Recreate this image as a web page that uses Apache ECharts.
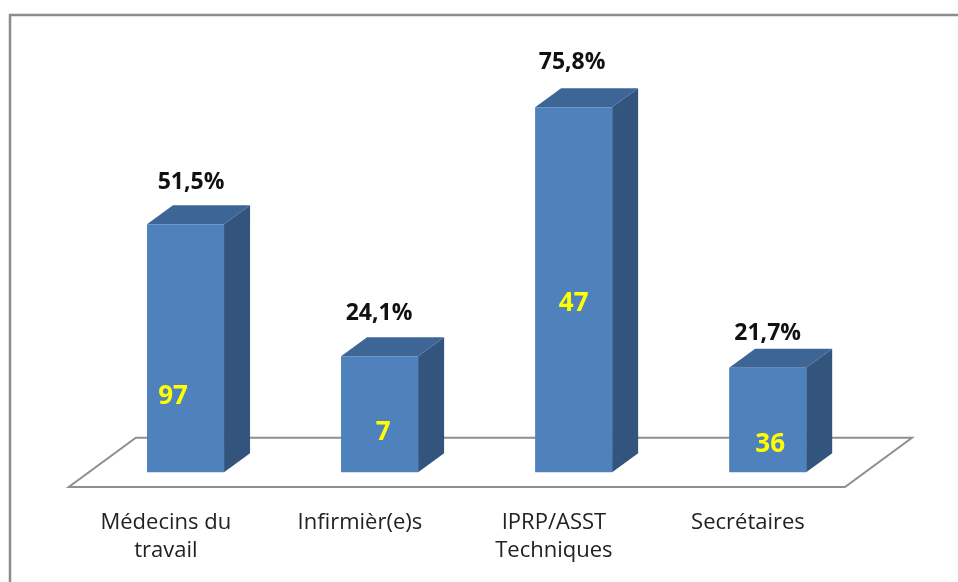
<!DOCTYPE html>
<html>
<head>
<meta charset="utf-8">
<script src="https://cdn.jsdelivr.net/npm/echarts@6/dist/echarts.min.js"></script>
<style>
html,body{margin:0;padding:0;background:#fff;}
#chart{width:958px;height:582px;}
</style>
</head>
<body>
<div id="chart"></div>
<script>
// ---- Data ----
const categories = ['Médecins du\ntravail', 'Infirmièr(e)s', 'IPRP/ASST\nTechniques', 'Secrétaires'];
const percentValues = [51.5, 24.1, 75.8, 21.7];
const countValues = [97, 7, 47, 36];

// ---- Layout / style (not data) ----
const BAR_RATIO = 0.397;          // front face width / band
const FRONT_DX = 19.7, FRONT_DY = -14.7; // bar front offset from floor front edge
const DEPTH_DX = 26, DEPTH_DY = -19;     // bar depth
const FLOOR_DX = 67, FLOOR_DY = -49.3;   // floor depth
const countLevel = [15.7, 8.3, 35.1, 5.7];      // count label height (axis units above base)
const countDx = [-12.5, 3.5, 0, 2.5];
const pctAbove = [42, 43, 44.7, 34.7];
const pctDx = [5.5, -0.5, -1.5, 0];
const FRONT = '#4f81bd', TOPC = '#3d6696', SIDE = '#32547d';

const fmtPct = v => v.toFixed(1).replace('.', ',') + '%';

const chart = echarts.init(document.getElementById('chart'), null, {renderer: 'canvas'});
chart.setOption({
  backgroundColor: '#fff',
  animation: false,
  graphic: [{
    type: 'rect', z: 100,
    shape: {x: 10, y: 15, width: 2000, height: 2000},
    style: {fill: 'none', stroke: '#8c8c8c', lineWidth: 2.5}
  }],
  grid: {left: 68.8, right: 113, top: 101.8, bottom: 95, containLabel: false},
  xAxis: {
    type: 'category', data: categories, boundaryGap: true,
    axisLine: {show: false}, axisTick: {show: false}, splitLine: {show: false},
    axisLabel: {interval: 0, fontFamily: 'Open Sans', fontSize: 22, lineHeight: 28, margin: 22, color: '#222'}
  },
  yAxis: {type: 'value', min: 0, max: 80, show: false},
  series: [
    {
      type: 'custom', z: 1, silent: true,
      data: [[0, 0]],
      renderItem(params, api) {
        const cs = params.coordSys;
        const yF = cs.y + cs.height;
        const xL = cs.x, xR = cs.x + cs.width;
        return {
          type: 'polygon',
          shape: {points: [[xL, yF], [xR, yF], [xR + FLOOR_DX, yF + FLOOR_DY], [xL + FLOOR_DX, yF + FLOOR_DY]]},
          style: {fill: '#fff', stroke: '#8f8f8f', lineWidth: 2}
        };
      }
    },
    {
      type: 'custom', z: 2, silent: true,
      data: percentValues.map((v, i) => [i, v]),
      renderItem(params, api) {
        const i = params.dataIndex;
        const xv = api.value(0), v = api.value(1);
        const base = api.coord([xv, 0]);
        const top = api.coord([xv, v]);
        const band = api.size([1, 0])[0];
        const w = band * BAR_RATIO;
        const cx = base[0] + FRONT_DX;
        const x0 = cx - w / 2, x1 = cx + w / 2;
        const yb = base[1] + FRONT_DY, yt = top[1] + FRONT_DY;
        const cy = api.coord([xv, countLevel[i]])[1] + FRONT_DY;
        return {
          type: 'group',
          children: [
            {type: 'polygon', shape: {points: [[x1, yt], [x1 + DEPTH_DX, yt + DEPTH_DY], [x1 + DEPTH_DX, yb + DEPTH_DY], [x1, yb]]}, style: {fill: SIDE}},
            {type: 'polygon', shape: {points: [[x0, yt], [x1, yt], [x1 + DEPTH_DX, yt + DEPTH_DY], [x0 + DEPTH_DX, yt + DEPTH_DY]]}, style: {fill: TOPC}},
            {type: 'rect', shape: {x: x0, y: yt, width: w, height: yb - yt}, style: {fill: FRONT}},
            {type: 'text', style: {text: fmtPct(v), x: cx + pctDx[i], y: yt - pctAbove[i], align: 'center', verticalAlign: 'middle',
              font: 'bold 23px "Open Sans"', fill: '#111'}},
            {type: 'text', style: {text: String(countValues[i]), x: cx + countDx[i], y: cy, align: 'center', verticalAlign: 'middle',
              font: 'bold 26px "Open Sans"', fill: '#ffff00'}}
          ]
        };
      }
    }
  ]
});
</script>
</body>
</html>
